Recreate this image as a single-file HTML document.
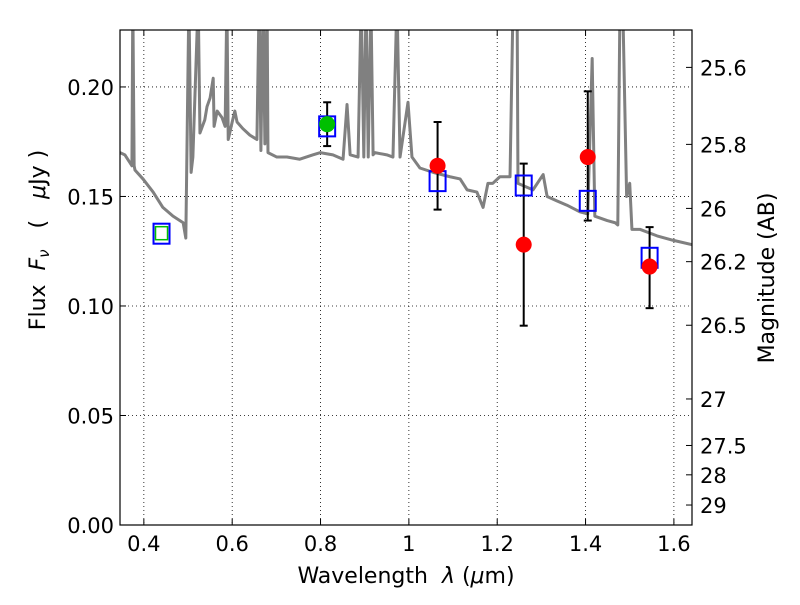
<!DOCTYPE html>
<html><head><meta charset="utf-8"><style>
body{margin:0;background:#fff;}
svg text{font-family:"DejaVu Sans","Liberation Sans",sans-serif;}
</style></head><body>
<svg id="chart" width="800" height="600" xmlns="http://www.w3.org/2000/svg"></svg>
<script>
const T_=0.24;
const specWave=[0.346,0.357,0.373,0.375,0.378,0.380,0.398,0.421,0.443,0.466,0.489,0.495,0.502,0.507,0.511,0.523,0.527,0.538,0.543,0.550,0.557,0.559,0.566,0.577,0.584,0.588,0.591,0.600,0.606,0.611,0.624,0.640,0.656,0.661,0.665,0.670,0.674,0.679,0.681,0.701,0.724,0.753,0.783,0.799,0.828,0.851,0.860,0.867,0.885,0.892,0.898,0.903,0.908,0.914,0.919,0.923,0.950,0.964,0.973,0.980,0.998,1.007,1.025,1.055,1.093,1.116,1.132,1.154,1.168,1.179,1.190,1.206,1.229,1.236,1.245,1.247,1.281,1.304,1.313,1.335,1.358,1.387,1.405,1.415,1.421,1.449,1.467,1.473,1.478,1.484,1.493,1.500,1.505,1.523,1.562,1.598,1.641];
const specFlux=[0.170,0.169,0.164,0.240,0.164,0.162,0.158,0.152,0.145,0.141,0.138,0.131,0.240,0.161,0.168,0.240,0.179,0.185,0.191,0.195,0.204,0.182,0.189,0.186,0.182,0.240,0.176,0.184,0.189,0.184,0.181,0.178,0.176,0.240,0.171,0.240,0.174,0.240,0.170,0.168,0.168,0.167,0.169,0.170,0.169,0.167,0.192,0.169,0.168,0.240,0.168,0.240,0.168,0.240,0.169,0.170,0.169,0.168,0.240,0.168,0.193,0.168,0.163,0.161,0.159,0.158,0.153,0.152,0.145,0.156,0.156,0.159,0.159,0.240,0.240,0.156,0.153,0.160,0.150,0.148,0.146,0.143,0.142,0.213,0.141,0.139,0.138,0.137,0.240,0.240,0.150,0.156,0.135,0.135,0.132,0.130,0.128];
const photWave=[1.065,1.26,1.405,1.545];
const photFlux=[0.164,0.128,0.168,0.118];
const photLo=[0.144,0.091,0.139,0.099];
const photHi=[0.184,0.165,0.198,0.136];
const modelWave=[0.44,0.815,1.065,1.26,1.405,1.545];
const modelFlux=[0.133,0.182,0.157,0.155,0.148,0.122];
const xTicks=[0.4,0.6,0.8,1.0,1.2,1.4,1.6];
const xTickLabels=["0.4","0.6","0.8","1","1.2","1.4","1.6"];
const yTicks=[0,0.05,0.10,0.15,0.20];
const yTickLabels=["0.00","0.05","0.10","0.15","0.20"];
const magTicks=[25.6,25.8,26,26.2,26.5,27,27.5,28,29];
const magTickLabels=["25.6","25.8","26","26.2","26.5","27","27.5","28","29"];

const L=120,R=692,T=30,B=525,X0=0.346,X1=1.641,Y0=0,Y1=0.226;
const sx=v=>L+(v-X0)/(X1-X0)*(R-L);
const sy=v=>B-(v-Y0)/(Y1-Y0)*(B-T);
const svg=document.getElementById('chart');
const NS="http://www.w3.org/2000/svg";
function mk(t,a,p){const e=document.createElementNS(NS,t);for(const k in a)e.setAttribute(k,a[k]);(p||svg).appendChild(e);return e;}
const defs=mk('defs',{});const cp=mk('clipPath',{id:'clip'},defs);mk('rect',{x:L,y:T,width:R-L,height:B-T},cp);
xTicks.forEach((v,i)=>{
 const g=mk('line',{x1:sx(v),x2:sx(v),y1:T,y2:B,stroke:'#000','stroke-dasharray':'1,3','stroke-width':0.8});
 
 mk('line',{x1:sx(v),x2:sx(v),y1:B,y2:B-6,stroke:'#000'});mk('line',{x1:sx(v),x2:sx(v),y1:T,y2:T+6,stroke:'#000'});
 const t=mk('text',{x:sx(v),y:B+26,'font-size':21,'text-anchor':'middle'});t.textContent=xTickLabels[i];
 
});
yTicks.forEach((v,i)=>{
 const g=mk('line',{x1:L,x2:R,y1:sy(v),y2:sy(v),stroke:'#000','stroke-dasharray':'1,3','stroke-width':0.8});
 
 mk('line',{x1:L,x2:L+6,y1:sy(v),y2:sy(v),stroke:'#000'});
 const t=mk('text',{x:L-6,y:sy(v)+8,'font-size':21,'text-anchor':'end'});t.textContent=yTickLabels[i];
 
});
magTicks.forEach((m,i)=>{
 const y=sy(Math.pow(10,(23.9-m)/2.5));
 mk('line',{x1:R,x2:R-6,y1:y,y2:y,stroke:'#000'});
 const t=mk('text',{x:R+8,y:y+8,'font-size':21});t.textContent=magTickLabels[i];
 
});
const sp=mk('polyline',{points:specWave.map((w,i)=>sx(w)+','+sy(specFlux[i])).join(' '),fill:'none',stroke:'#808080','stroke-width':3,'stroke-linejoin':'round','clip-path':'url(#clip)'});

function eb(x,lo,hi){
 const e=mk('line',{x1:x,x2:x,y1:sy(lo),y2:sy(hi),stroke:'#000','stroke-width':2});
 
 mk('line',{x1:x-4,x2:x+4,y1:sy(lo),y2:sy(lo),stroke:'#000','stroke-width':2});
 mk('line',{x1:x-4,x2:x+4,y1:sy(hi),y2:sy(hi),stroke:'#000','stroke-width':2});
}
photWave.forEach((w,i)=>eb(sx(w),photLo[i],photHi[i]));
eb(sx(0.815),0.173,0.193);
modelWave.forEach((w,i)=>{
 const s=mk('rect',{x:sx(w)-8,y:sy(modelFlux[i])-10,width:16,height:20,fill:'none',stroke:'#0000ff','stroke-width':2});
 
});
{const g=mk('rect',{x:sx(0.44)-6,y:sy(0.133)-7,width:12,height:13,fill:'#fff',stroke:'#00bf00','stroke-width':1.5});
 
 const c=mk('circle',{cx:sx(0.815),cy:sy(0.183),r:8,fill:'#00bf00'});
 }
photWave.forEach((w,i)=>{
 const c=mk('circle',{cx:sx(w),cy:sy(photFlux[i]),r:8,fill:'#ff0000'});
 
});
const fr=mk('rect',{x:L,y:T,width:R-L,height:B-T,fill:'none',stroke:'#000','stroke-width':1.2});

</script>
<svg style="position:absolute;left:0;top:0" width="800" height="600" xmlns="http://www.w3.org/2000/svg">
<text x="406" y="583" font-size="22" text-anchor="middle" font-family="DejaVu Sans,Liberation Sans,sans-serif" xml:space="preserve">Wavelength  <tspan font-style="italic">λ</tspan> (<tspan font-style="italic">μ</tspan>m)</text>
<text transform="translate(45,240) rotate(-90)" font-size="22" text-anchor="middle" font-family="DejaVu Sans,Liberation Sans,sans-serif" xml:space="preserve">Flux  <tspan font-style="italic">F</tspan><tspan font-style="italic" font-size="15" dy="4">ν</tspan><tspan dy="-4">   (   </tspan><tspan font-style="italic">μ</tspan>Jy )</text>
<text transform="translate(774,278) rotate(-90)" font-size="22" text-anchor="middle" font-family="DejaVu Sans,Liberation Sans,sans-serif">Magnitude (AB)</text>
</svg>
</body></html>
